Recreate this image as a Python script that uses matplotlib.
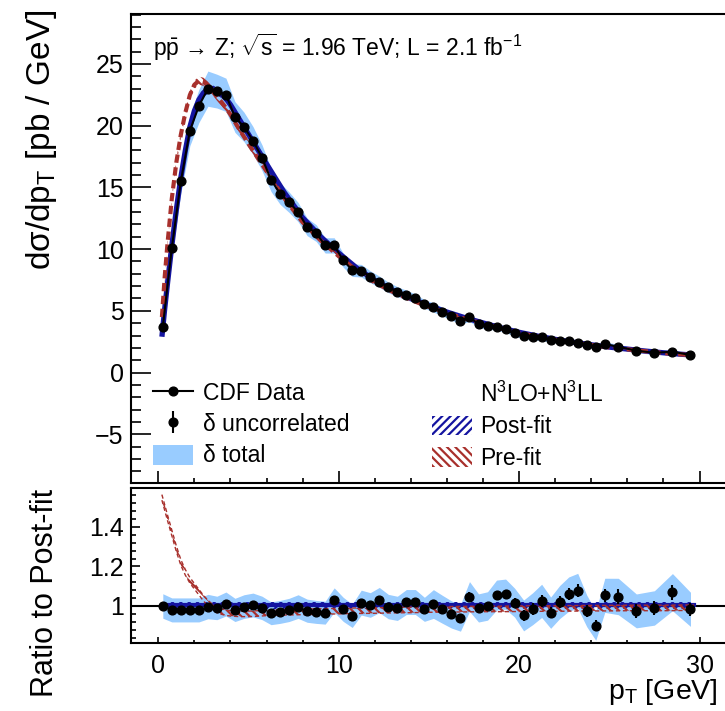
import numpy as np
import matplotlib
matplotlib.use('Agg')
import matplotlib.pyplot as plt
from matplotlib.lines import Line2D
from matplotlib.patches import Patch
from matplotlib.ticker import MultipleLocator, FixedLocator, FuncFormatter
from matplotlib.legend_handler import HandlerTuple

# ---------------- data ----------------
pt = [0.25, 0.75, 1.25, 1.75, 2.25, 2.75, 3.25, 3.75, 4.25, 4.75,
      5.25, 5.75, 6.25, 6.75, 7.25, 7.75, 8.25, 8.75, 9.25, 9.75,
      10.25, 10.75, 11.25, 11.75, 12.25, 12.75, 13.25, 13.75, 14.25, 14.75,
      15.25, 15.75, 16.25, 16.75, 17.25, 17.75, 18.25, 18.75, 19.25, 19.75,
      20.25, 20.75, 21.25, 21.75, 22.25, 22.75, 23.25, 23.75, 24.25, 24.75,
      25.5, 26.5, 27.5, 28.5, 29.5]

xsec = [3.7, 10.1, 15.5, 19.6, 21.6, 23.0, 22.8, 22.5, 20.7, 19.9,
        18.8, 17.4, 15.6, 14.5, 13.8, 13.0, 11.8, 11.3, 10.3, 10.3,
        9.1, 8.3, 8.25, 7.76, 7.36, 6.9, 6.55, 6.28, 6.0, 5.55,
        5.28, 4.93, 4.58, 4.2, 4.47, 3.93, 3.77, 3.71, 3.5, 3.17,
        2.96, 2.85, 2.85, 2.63, 2.58, 2.58, 2.42, 2.23, 2.04, 2.31,
        2.09, 1.77, 1.6, 1.69, 1.42]

ratio = [1.0, 0.98, 0.98, 0.98, 0.98, 0.997, 0.99, 1.01, 0.98, 0.997,
         1.005, 0.99, 0.963, 0.97, 0.98, 0.997, 0.976, 0.97, 0.966, 1.03,
         0.983, 0.95, 1.017, 1.005, 1.03, 0.997, 0.988, 1.02, 1.02, 0.983,
         1.01, 0.983, 0.957, 0.94, 1.048, 0.99, 1.0, 1.055, 1.06, 1.017,
         0.952, 0.986, 1.026, 0.966, 1.02, 1.06, 1.077, 0.975, 0.9, 1.054,
         1.048, 0.975, 0.99, 1.07, 0.983]

# relative uncertainties: uncorrelated and total
unc_rel = [0.008, 0.008, 0.008, 0.008, 0.008, 0.008, 0.008, 0.008, 0.008, 0.008,
           0.010, 0.010, 0.010, 0.010, 0.010, 0.010, 0.010, 0.010, 0.010, 0.010,
           0.015, 0.015, 0.015, 0.015, 0.015, 0.015, 0.015, 0.015, 0.015, 0.015,
           0.022, 0.022, 0.022, 0.022, 0.022, 0.022, 0.022, 0.022, 0.022, 0.022,
           0.030, 0.030, 0.030, 0.030, 0.030, 0.030, 0.030, 0.030, 0.030, 0.030,
           0.035, 0.035, 0.035, 0.035, 0.035]
tot_rel = [0.062, 0.062, 0.062, 0.062, 0.062, 0.062, 0.060, 0.060, 0.060, 0.060,
           0.060, 0.060, 0.060, 0.060, 0.060, 0.060, 0.060, 0.060, 0.060, 0.060,
           0.062, 0.062, 0.062, 0.062, 0.062, 0.062, 0.062, 0.062, 0.062, 0.062,
           0.072, 0.072, 0.072, 0.072, 0.072, 0.072, 0.072, 0.072, 0.072, 0.072,
           0.082, 0.082, 0.082, 0.082, 0.082, 0.082, 0.082, 0.082, 0.082, 0.082,
           0.088, 0.088, 0.088, 0.088, 0.088]

# N3LO+N3LL predictions
theory_pt = [0.2, 0.35, 0.5, 0.75, 1.0, 1.25, 1.5, 1.75, 2.0, 2.25, 2.5, 2.75,
             3.0, 3.25, 3.5, 3.75, 4.0, 4.5, 5.0, 5.5, 6.0,
             7, 8, 9, 10, 11, 12, 13, 14, 15, 16, 17, 18, 19, 20, 21, 22, 23,
             24, 25, 26, 27, 28, 29, 29.7]
postfit = [2.9, 5.1, 7.1, 10.3, 13.2, 15.8, 18.0, 19.9, 21.2, 22.1, 22.65, 22.9,
           22.95, 22.8, 22.55, 22.2, 21.7, 20.5, 19.3, 18.1, 16.9,
           14.55, 12.55, 11.0, 9.68, 8.47, 7.47, 6.67, 6.0, 5.42, 4.9, 4.44,
           4.02, 3.62, 3.26, 2.96, 2.69, 2.45, 2.25, 2.06, 1.9, 1.74, 1.6,
           1.48, 1.41]
prefit_ratio = [1.55, 1.5, 1.45, 1.37, 1.29, 1.22, 1.17, 1.13, 1.1, 1.07, 1.04, 1.015,
                0.995, 0.98, 0.972, 0.966, 0.963, 0.96, 0.96, 0.962, 0.965,
                0.968, 0.97, 0.972, 0.974, 0.976, 0.977, 0.979, 0.98, 0.982,
                0.983, 0.984, 0.985, 0.985, 0.986, 0.987, 0.987, 0.988, 0.989,
                0.989, 0.99, 0.99, 0.99, 0.991, 0.991]
theory_unc = 0.014

# ---------------- style ----------------
plt.rcParams['font.family'] = ['Liberation Sans', 'DejaVu Sans']
plt.rcParams['mathtext.fontset'] = 'custom'
plt.rcParams['mathtext.rm'] = 'Liberation Sans'
plt.rcParams['mathtext.it'] = 'Liberation Sans:italic'
plt.rcParams['mathtext.bf'] = 'Liberation Sans:bold'
plt.rcParams['mathtext.sf'] = 'Liberation Sans'
plt.rcParams['mathtext.default'] = 'regular'
plt.rcParams['hatch.linewidth'] = 1.6

BLUE = '#1414a0'
RED = '#a8302c'
BAND = '#99ccff'

pt_a = np.array(pt)
xs = np.array(xsec)
rt = np.array(ratio)
unc = np.array(unc_rel)
tot = np.array(tot_rel)
tp = np.array(theory_pt)
post = np.array(postfit)
prer = np.array(prefit_ratio)
pre = post * prer

W, H = 725, 711
fig = plt.figure(figsize=(W / 100, H / 100), dpi=100)

def fx(px):
    return px / W

def fy(py):
    return 1 - py / H

x_left = 130.7
x_zero = 158.3
ppg = 18.04
xlim = (-1.53, 32.0)
x_right = x_zero + xlim[1] * ppg

ax1 = fig.add_axes([fx(x_left), fy(483), (x_right - x_left) / W, (483 - 14) / H])
ax2 = fig.add_axes([fx(x_left), fy(643), (x_right - x_left) / W, (643 - 488) / H])

# ---------------- top panel ----------------
ax1.fill_between(pt_a, xs * (1 - tot), xs * (1 + tot), color=BAND, lw=0, zorder=1)
ax1.fill_between(tp, post * (1 - theory_unc), post * (1 + theory_unc), facecolor='none',
                 edgecolor=BLUE, hatch='////', lw=0, zorder=2)
ax1.plot(tp, post, color=BLUE, lw=3.8, zorder=3, solid_capstyle='butt')
ax1.fill_between(tp, pre * (1 - theory_unc), pre * (1 + theory_unc), facecolor='none',
                 edgecolor=RED, hatch='\\\\\\\\', lw=0, zorder=4)
ax1.plot(tp, pre, color=RED, lw=3.0, ls=(0, (2.0, 1.1)), zorder=4)
ax1.plot(pt_a, xs, color='k', lw=1.5, marker='o', ms=6.3, zorder=6)

ax1.set_xlim(*xlim)
ax1.set_ylim(-8.95, 29.05)
ax1.xaxis.set_major_locator(MultipleLocator(10))
ax1.xaxis.set_minor_locator(MultipleLocator(2))
ax1.yaxis.set_major_locator(MultipleLocator(5))
ax1.yaxis.set_minor_locator(MultipleLocator(1))
ax1.tick_params(which='both', direction='in', top=False, right=False,
                labelbottom=False, width=1.2)
ax1.tick_params(axis='y', which='major', length=14.4, labelsize=18, pad=5)
ax1.tick_params(axis='y', which='minor', length=7.2)
ax1.tick_params(axis='x', which='major', length=8.6)
ax1.tick_params(axis='x', which='minor', length=3.6)

# ---------------- ratio panel ----------------
ax2.fill_between(pt_a, rt * (1 - tot), rt * (1 + tot), color=BAND, lw=0, zorder=1)
ax2.axhline(1.0, color='k', lw=1.5, zorder=2)
ax2.fill_between(tp, post / post - theory_unc, post / post + theory_unc * 1.4,
                 facecolor='none', edgecolor=BLUE, hatch='////', lw=0, zorder=3)
ax2.plot(tp, post / post + 0.005, color=BLUE, lw=3.0, zorder=3)
ax2.fill_between(tp, prer - theory_unc, prer + theory_unc, facecolor='none',
                 edgecolor=RED, hatch='\\\\\\\\', lw=0, zorder=4)
ax2.plot(tp, prer - theory_unc, color=RED, lw=1.0, ls=(0, (3, 2)), zorder=4)
ax2.plot(tp, prer + theory_unc, color=RED, lw=1.0, ls=(0, (3, 2)), zorder=4)
ax2.errorbar(pt_a, rt, yerr=rt * unc, fmt='o', color='k', ms=6.3, elinewidth=1.5,
             capsize=0, zorder=6)

ax2.set_xlim(*xlim)
ax2.set_ylim(0.8125, 1.5975)
ax2.xaxis.set_major_locator(MultipleLocator(10))
ax2.xaxis.set_minor_locator(MultipleLocator(2))
ax2.yaxis.set_major_locator(FixedLocator([1.0, 1.2, 1.4]))
ax2.yaxis.set_minor_locator(MultipleLocator(0.04))
ax2.yaxis.set_major_formatter(FuncFormatter(lambda v, p: '%g' % round(v, 2)))
ax2.tick_params(which='both', direction='in', top=False, right=False, width=1.2)
ax2.tick_params(axis='y', which='major', length=6.5, labelsize=18, pad=5)
ax2.tick_params(axis='y', which='minor', length=3.6)
ax2.tick_params(axis='x', which='major', length=4.0, labelsize=18, pad=8)
ax2.tick_params(axis='x', which='minor', length=2.2)

for ax in (ax1, ax2):
    for s in ax.spines.values():
        s.set_linewidth(1.5)

# ---------------- texts ----------------
fig.text(fx(153), fy(47),
         r'$\mathregular{p\bar{p}}$ \u2192 Z; $\sqrt{\mathregular{s}}$ = 1.96 TeV; L = 2.1 fb$^{-1}$'
         .replace('\\u2192', '\u2192'),
         ha='left', va='center', fontsize=16.5)
fig.text(fx(42), fy(10), r'd$\sigma$/dp$_{T}$ [pb / GeV]', rotation=90,
         ha='center', va='top', fontsize=24)
fig.text(fx(45), fy(489), 'Ratio to Post-fit', rotation=90,
         ha='center', va='top', fontsize=22)
fig.text(fx(718), fy(677), r'p$_{T}$ [GeV]', ha='right', va='top', fontsize=20.5)

# ---------------- legends ----------------
h_data = Line2D([], [], color='k', lw=1.5, marker='o', ms=6.3)
h_unc = (Line2D([], [], color='k', ls='none', marker='|', ms=16, mew=1.5),
         Line2D([], [], color='k', ls='none', marker='o', ms=6.3))
h_tot = Patch(facecolor=BAND, edgecolor='none')
leg1 = fig.legend([h_data, h_unc, h_tot], ['CDF Data', '\u03b4 uncorrelated', '\u03b4 total'],
                  loc='upper left', bbox_to_anchor=(fx(153), fy(382)),
                  frameon=False, fontsize=16.5, borderpad=0, borderaxespad=0,
                  handlelength=1.75, handletextpad=0.45, handleheight=0.95,
                  labelspacing=0.36,
                  handler_map={tuple: HandlerTuple(ndivide=1, pad=0)})

h_head = Patch(facecolor='none', edgecolor='none')
h_post = Patch(facecolor='none', edgecolor=BLUE, hatch='////', lw=0)
h_pre = Patch(facecolor='none', edgecolor=RED, hatch='\\\\\\\\', lw=0)
leg2 = fig.legend([h_head, h_post, h_pre], [r'N$^{3}$LO+N$^{3}$LL', 'Post-fit', 'Pre-fit'],
                  loc='upper left', bbox_to_anchor=(fx(432), fy(382)),
                  frameon=False, fontsize=16.5, borderpad=0, borderaxespad=0,
                  handlelength=1.75, handletextpad=0.35, handleheight=0.95,
                  labelspacing=0.36)

fig.savefig('out.png', dpi=100)
